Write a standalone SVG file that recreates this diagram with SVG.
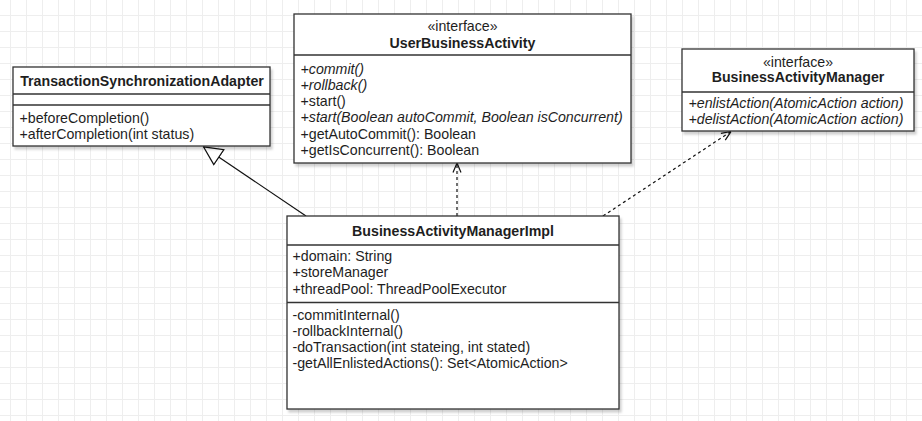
<svg xmlns="http://www.w3.org/2000/svg" width="922" height="421" viewBox="0 0 922 421">
<style>
.t{font-family:"Liberation Sans",Arial,sans-serif;font-size:14.2px;fill:#1e1e1e}
.b{font-weight:bold;text-anchor:middle}
.c{text-anchor:middle}
.i{font-style:italic}
.box{fill:#fff;stroke:#333;stroke-width:1.3;filter:url(#sh)}
.div{stroke:#333;stroke-width:1.3}
.ln{fill:none;stroke:#111;stroke-width:1.2}
.dash{stroke-dasharray:3 3}
</style>
<defs>
<pattern id="grid" width="16" height="16" x="10" y="15" patternUnits="userSpaceOnUse">
<path d="M0.5 0V16M0 0.5H16" fill="none" stroke="#eeeeee" stroke-width="1"/>
</pattern>
<filter id="sh" x="-5%" y="-5%" width="115%" height="120%">
<feDropShadow dx="2" dy="3" stdDeviation="1.2" flood-color="#000" flood-opacity="0.18"/>
</filter>
<marker id="open" viewBox="0 0 10 10" refX="10" refY="5" markerWidth="10" markerHeight="10" markerUnits="userSpaceOnUse" orient="auto">
<path d="M0.5,1 L10,5 L0.5,9" fill="none" stroke="#111" stroke-width="1.2"/>
</marker>
<marker id="tri" viewBox="0 0 20 20" refX="19.5" refY="10" markerWidth="20" markerHeight="20" markerUnits="userSpaceOnUse" orient="auto">
<path d="M1,1 L19.5,10 L1,19 Z" fill="#fff" stroke="#111" stroke-width="1.2"/>
</marker>
</defs>
<rect width="922" height="421" fill="#fff"/>
<rect width="922" height="421" fill="url(#grid)"/>

<g id="connectors">
<path class="ln" d="M306,216 L203.5,146.8" marker-end="url(#tri)"/>
<path class="ln dash" d="M457,216 L457,163" marker-end="url(#open)"/>
<path class="ln dash" d="M603,216 L731,131.5" marker-end="url(#open)"/>
</g>

<g id="TransactionSynchronizationAdapter">
<rect class="box" x="13" y="67" width="257" height="79"/>
<line class="div" x1="13" y1="94" x2="270" y2="94"/>
<line class="div" x1="13" y1="105" x2="270" y2="105"/>
<text class="t b" x="142" y="86">TransactionSynchronizationAdapter</text>
<text class="t" x="19.5" y="123">+beforeCompletion()</text>
<text class="t" x="19.5" y="139">+afterCompletion(int status)</text>
</g>

<g id="UserBusinessActivity">
<rect class="box" x="294" y="14" width="337" height="149"/>
<line class="div" x1="294" y1="55" x2="631" y2="55"/>
<text class="t c" x="462.5" y="31">«interface»</text>
<text class="t b" x="462.5" y="48">UserBusinessActivity</text>
<text class="t i" x="300.5" y="74">+commit()</text>
<text class="t i" x="300.5" y="90">+rollback()</text>
<text class="t" x="300.5" y="106">+start()</text>
<text class="t i" x="300.5" y="122">+start(Boolean autoCommit, Boolean isConcurrent)</text>
<text class="t" x="300.5" y="139">+getAutoCommit(): Boolean</text>
<text class="t" x="300.5" y="155">+getIsConcurrent(): Boolean</text>
</g>

<g id="BusinessActivityManager">
<rect class="box" x="682" y="49" width="232" height="82"/>
<line class="div" x1="682" y1="92" x2="914" y2="92"/>
<text class="t c" x="798" y="67">«interface»</text>
<text class="t b" x="798" y="82">BusinessActivityManager</text>
<text class="t i" x="688.5" y="108">+enlistAction(AtomicAction action)</text>
<text class="t i" x="688.5" y="124">+delistAction(AtomicAction action)</text>
</g>

<g id="BusinessActivityManagerImpl">
<rect class="box" x="287" y="216" width="332" height="193"/>
<line class="div" x1="287" y1="245" x2="619" y2="245"/>
<line class="div" x1="287" y1="302.5" x2="619" y2="302.5"/>
<text class="t b" x="453" y="236">BusinessActivityManagerImpl</text>
<text class="t" x="292.5" y="261">+domain: String</text>
<text class="t" x="292.5" y="277">+storeManager</text>
<text class="t" x="292.5" y="294">+threadPool: ThreadPoolExecutor</text>
<text class="t" x="292.5" y="320">-commitInternal()</text>
<text class="t" x="292.5" y="336">-rollbackInternal()</text>
<text class="t" x="292.5" y="352">-doTransaction(int stateing, int stated)</text>
<text class="t" x="292.5" y="368">-getAllEnlistedActions(): Set&lt;AtomicAction&gt;</text>
</g>
</svg>
